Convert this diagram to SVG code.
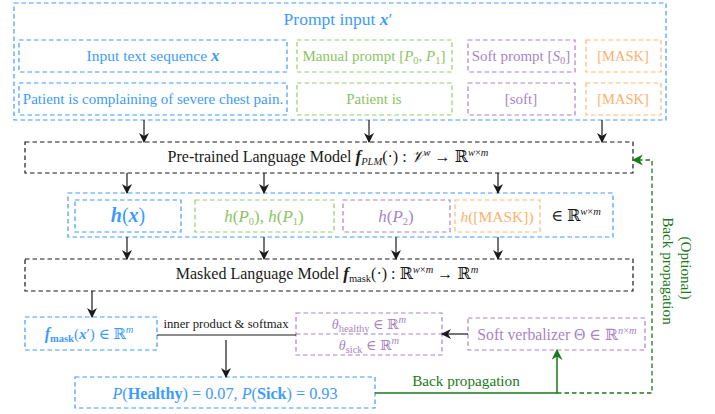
<svg xmlns="http://www.w3.org/2000/svg" width="715" height="414" viewBox="0 0 715 414">
<style>
svg{font-family:"Liberation Serif","Times New Roman","DejaVu Serif",serif;font-size:15px}
text{text-anchor:middle}
.bx{fill:none;stroke-width:1.2;stroke-dasharray:4.5 3}
.blue{stroke:#3d9bff}.green{stroke:#99cc6e}.purple{stroke:#a784c6}.orange{stroke:#ffb873}.black{stroke:#1a1a1a}
.tb{fill:#3d9bff}.tg{fill:#8cc462}.tp{fill:#a784c6}.to{fill:#ffb06a}.tk{fill:#1a1a1a}.tdg{fill:#1a7a1a}
.i{font-style:italic}.bi{font-style:italic;font-weight:bold}.b{font-weight:bold}
.s{font-size:10.5px}
.ar{fill:none;stroke:#1a1a1a;stroke-width:1.2}
</style>
<defs>
<marker id="ah" viewBox="0 0 10 10" refX="9" refY="5" markerWidth="10" markerHeight="10" markerUnits="userSpaceOnUse" orient="auto">
<path d="M0,0 L10,5 L0,10 L3,5 Z" fill="#1a1a1a"/>
</marker>
<marker id="ahg" viewBox="0 0 10 10" refX="9" refY="5" markerWidth="11" markerHeight="11" markerUnits="userSpaceOnUse" orient="auto">
<path d="M0,0 L10,5 L0,10 L3,5 Z" fill="#1a7a1a"/>
</marker>
</defs>

<g id="prompt-input">
<rect class="bx blue" x="14" y="3" width="652" height="117"/>
<text x="338" y="25" class="tb" font-size="17.5">Prompt input <tspan class="bi">x</tspan>′</text>
</g>
<g id="input-text">
<rect class="bx blue" x="19" y="40" width="268" height="32"/>
<text x="153" y="61" class="tb" font-size="15.5">Input text sequence <tspan class="bi" font-size="17">x</tspan></text>
</g>
<g id="manual-prompt">
<rect class="bx green" x="297" y="40" width="155" height="32"/>
<text x="374" y="61" class="tg">Manual prompt [<tspan class="i">P</tspan><tspan class="s" dy="3">0</tspan><tspan dy="-3">, </tspan><tspan class="i">P</tspan><tspan class="s" dy="3">1</tspan><tspan dy="-3">]</tspan></text>
</g>
<g id="soft-prompt">
<rect class="bx purple" x="468" y="40" width="107" height="32"/>
<text x="521" y="61" class="tp">Soft prompt [<tspan class="i">S</tspan><tspan class="s" dy="3">0</tspan><tspan dy="-3">]</tspan></text>
</g>
<g id="mask-1">
<rect class="bx orange" x="586" y="40" width="75" height="32"/>
<text x="623" y="61" class="to" font-size="14.5">[MASK]</text>
</g>
<g id="patient-text">
<rect class="bx blue" x="19" y="83" width="268" height="32"/>
<text x="153" y="104" class="tb">Patient is complaining of severe chest pain.</text>
</g>
<g id="patient-is">
<rect class="bx green" x="297" y="83" width="155" height="32"/>
<text x="374" y="104" class="tg">Patient is</text>
</g>
<g id="soft">
<rect class="bx purple" x="468" y="83" width="107" height="32"/>
<text x="521" y="104" class="tp">[soft]</text>
</g>
<g id="mask-2">
<rect class="bx orange" x="586" y="83" width="75" height="32"/>
<text x="623" y="104" class="to" font-size="14.5">[MASK]</text>
</g>

<g id="plm">
<rect class="bx black" x="25" y="142" width="608" height="31"/>
<text x="328" y="162" class="tk" font-size="16">Pre-trained Language Model <tspan class="bi" font-size="17">f</tspan><tspan class="s i" dy="3">PLM</tspan><tspan dy="-3">(·) : </tspan><tspan class="i">𝒱</tspan><tspan class="s i" dy="-6">w</tspan><tspan dy="6"> → ℝ</tspan><tspan class="s" dy="-6"><tspan class="i">w</tspan>×<tspan class="i">m</tspan></tspan></text>
</g>

<g id="hidden">
<rect class="bx blue" x="68" y="193" width="545" height="44"/>
<text x="576" y="221" class="tk" font-size="16">∈ ℝ<tspan class="s" dy="-6"><tspan class="i">w</tspan>×<tspan class="i">m</tspan></tspan></text>
</g>
<g id="h-x">
<rect class="bx blue" x="75" y="200" width="106" height="32"/>
<text x="128" y="222" class="tb" font-size="20"><tspan class="bi">h</tspan>(<tspan class="bi">x</tspan>)</text>
</g>
<g id="h-p0p1">
<rect class="bx green" x="195" y="200" width="139" height="32"/>
<text x="264" y="222" class="tg" font-size="17"><tspan class="i">h</tspan>(<tspan class="i">P</tspan><tspan class="s" dy="3">0</tspan><tspan dy="-3">), </tspan><tspan class="i">h</tspan>(<tspan class="i">P</tspan><tspan class="s" dy="3">1</tspan><tspan dy="-3">)</tspan></text>
</g>
<g id="h-p2">
<rect class="bx purple" x="343" y="200" width="107" height="32"/>
<text x="396" y="222" class="tp" font-size="17"><tspan class="i">h</tspan>(<tspan class="i">P</tspan><tspan class="s" dy="3">2</tspan><tspan dy="-3">)</tspan></text>
</g>
<g id="h-mask">
<rect class="bx orange" x="455" y="200" width="85" height="32"/>
<text x="497" y="222" class="to" font-size="15.5"><tspan class="i">h</tspan>([MASK])</text>
</g>

<g id="mlm">
<rect class="bx black" x="25" y="259" width="608" height="32"/>
<text x="327" y="279" class="tk" font-size="16">Masked Language Model <tspan class="bi" font-size="17">f</tspan><tspan class="s" dy="3">mask</tspan><tspan dy="-3">(·) : ℝ</tspan><tspan class="s" dy="-6"><tspan class="i">w</tspan>×<tspan class="i">m</tspan></tspan><tspan dy="6"> → ℝ</tspan><tspan class="s i" dy="-6">m</tspan></text>
</g>

<g id="fmask">
<rect class="bx blue" x="25" y="317" width="132" height="33"/>
<text x="89" y="339" class="tb" font-size="15"><tspan class="bi" font-size="16">f</tspan><tspan class="s b" dy="3">mask</tspan><tspan dy="-3">(</tspan><tspan class="bi">x</tspan>′) ∈ ℝ<tspan class="s i" dy="-6">m</tspan></text>
</g>

<g id="theta">
<rect class="bx purple" x="296" y="313" width="146" height="42"/>
<line class="bx purple" x1="296" y1="334" x2="442" y2="334"/>
<text x="369" y="329" class="tp" font-size="14"><tspan class="i">θ</tspan><tspan class="s" dy="3">healthy</tspan><tspan dy="-3"> ∈ ℝ</tspan><tspan class="s i" dy="-6">m</tspan></text>
<text x="369" y="350" class="tp" font-size="14"><tspan class="i">θ</tspan><tspan class="s" dy="3">sick</tspan><tspan dy="-3"> ∈ ℝ</tspan><tspan class="s i" dy="-6">m</tspan></text>
</g>

<g id="verbalizer">
<rect class="bx purple" x="468" y="318" width="177" height="32"/>
<text x="557" y="340" class="tp" font-size="15.7">Soft verbalizer Θ ∈ ℝ<tspan class="s" dy="-6"><tspan class="i">n</tspan>×<tspan class="i">m</tspan></tspan></text>
</g>

<g id="prob">
<rect class="bx blue" x="75" y="377" width="300" height="31"/>
<text x="225" y="399" class="tb" font-size="16.2"><tspan class="i">P</tspan>(<tspan class="b">Healthy</tspan>) = 0.07,  <tspan class="i">P</tspan>(<tspan class="b">Sick</tspan>) = 0.93</text>
</g>

<g id="connectors">
<line class="ar" x1="144" y1="120" x2="144" y2="142" marker-end="url(#ah)"/>
<line class="ar" x1="369" y1="120" x2="369" y2="142" marker-end="url(#ah)"/>
<line class="ar" x1="602" y1="120" x2="602" y2="142" marker-end="url(#ah)"/>
<line class="ar" x1="127" y1="173" x2="127" y2="193" marker-end="url(#ah)"/>
<line class="ar" x1="264" y1="173" x2="264" y2="193" marker-end="url(#ah)"/>
<line class="ar" x1="498" y1="173" x2="498" y2="193" marker-end="url(#ah)"/>
<line class="ar" x1="127" y1="237" x2="127" y2="259" marker-end="url(#ah)"/>
<line class="ar" x1="264" y1="237" x2="264" y2="259" marker-end="url(#ah)"/>
<line class="ar" x1="396" y1="237" x2="396" y2="259" marker-end="url(#ah)"/>
<line class="ar" x1="498" y1="237" x2="498" y2="259" marker-end="url(#ah)"/>
<line class="ar" x1="92" y1="291" x2="92" y2="317" marker-end="url(#ah)"/>
<line class="ar" x1="157" y1="335" x2="296" y2="335"/>
<text x="226" y="328" class="tk" font-size="12.7">inner product &amp; softmax</text>
<line class="ar" x1="226" y1="340" x2="226" y2="377" marker-end="url(#ah)"/>
<line class="ar" x1="468" y1="334" x2="442" y2="334" marker-end="url(#ah)"/>
<path d="M375,393 H557 V350" fill="none" stroke="#1a7a1a" stroke-width="1.5" marker-end="url(#ahg)"/>
<text x="466" y="386" class="tdg" font-size="15.2">Back propagation</text>
<path d="M557,393 H652 V160 H633" fill="none" stroke="#1a7a1a" stroke-width="1.3" stroke-dasharray="4.5 3" marker-end="url(#ahg)"/>
<text transform="translate(681,268) rotate(90)" class="tdg" font-size="15.2">(Optional)</text>
<text transform="translate(663,271) rotate(90)" class="tdg" font-size="15.2">Back propagation</text>
</g>
</svg>
